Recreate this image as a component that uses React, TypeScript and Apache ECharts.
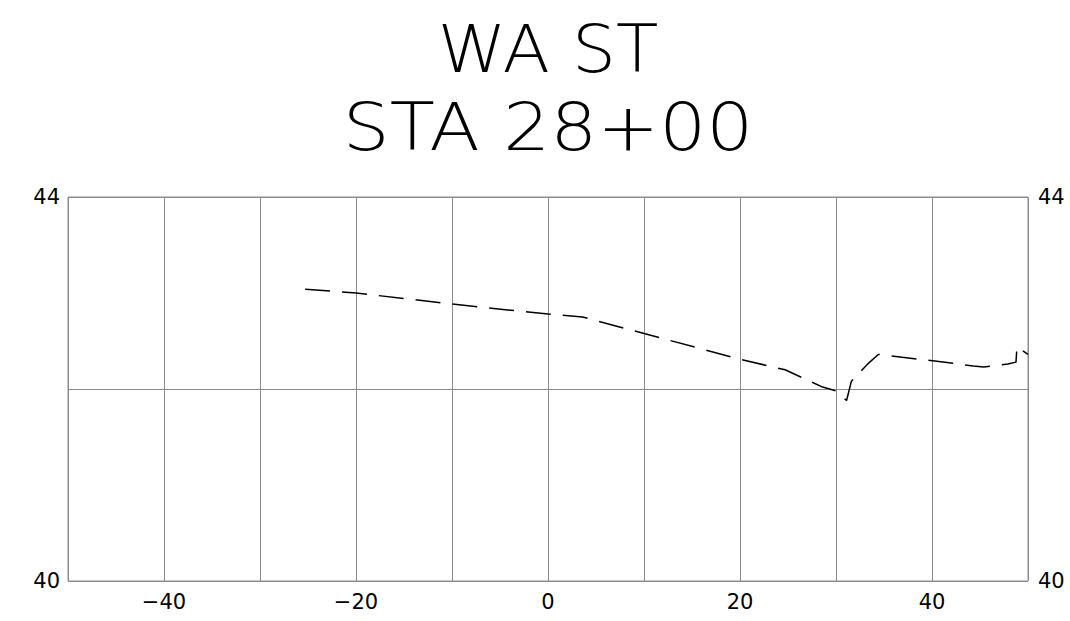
import React, { useEffect, useRef } from "react";
import * as echarts from "echarts";

const titleLines = ["WA ST", "STA 28+00"];
const offsets = [-25.3, -20, -10, 0, 3.6, 20, 24.7, 28.6, 30, 31.1, 31.6, 33.4, 34.4, 36.9, 40.5, 44.3, 45.4, 47.9, 48.75, 48.85, 50];
const elevations = [43.04, 43.0, 42.885, 42.78, 42.75, 42.31, 42.2, 42.02, 41.98, 41.88, 42.08, 42.27, 42.36, 42.33, 42.29, 42.24, 42.23, 42.26, 42.28, 42.44, 42.36];
const xLabelTicks = [-40, -20, 0, 20, 40];
const yLabelTicks = [40, 44];

export default function App() {
  const ref = useRef<HTMLDivElement>(null);
  useEffect(() => {
    const chart = echarts.init(ref.current!, null, { renderer: "svg" });
    const font = "DejaVu Sans";
    const gridColor = "#8c8c8c";
    const titleScale = [1.05, 1.12];
    const yAxisCommon = {
      type: "value",
      min: 40,
      max: 44,
      interval: 2,
      axisLine: { show: false },
      axisTick: { show: false },
      splitLine: { show: true, lineStyle: { color: gridColor, width: 1 } },
      axisLabel: {
        fontFamily: font,
        fontSize: 21,
        color: "#000",
        formatter: (v: number) => (yLabelTicks.includes(v) ? String(v) : ""),
      },
    };
    chart.setOption({
      animation: false,
      backgroundColor: "#fff",
      grid: {
        left: 68,
        right: 42,
        top: 197,
        bottom: 40,
        show: true,
        borderColor: gridColor,
        borderWidth: 1,
      },
      xAxis: {
        type: "value",
        min: -50,
        max: 50,
        interval: 10,
        axisLine: { show: false },
        axisTick: { show: false },
        splitLine: { show: true, lineStyle: { color: gridColor, width: 1 } },
        axisLabel: {
          fontFamily: font,
          fontSize: 21,
          color: "#000",
          margin: 10,
          formatter: (v: number) =>
            xLabelTicks.includes(v) ? (v < 0 ? "\u2212" + Math.abs(v) : String(v)) : "",
        },
      },
      yAxis: [
        { ...yAxisCommon, position: "left", axisLabel: { ...yAxisCommon.axisLabel, margin: 8 } },
        { ...yAxisCommon, position: "right", splitLine: { show: false }, axisLabel: { ...yAxisCommon.axisLabel, margin: 10 } },
      ],
      graphic: titleLines.map((t, i) => ({
        type: "text",
        x: 548,
        y: 49 + i * 78,
        scaleX: titleScale[i],
        style: {
          text: t,
          fontFamily: font,
          fontWeight: 200,
          fontSize: 66,
          fill: "#000",
          textAlign: "center",
          textVerticalAlign: "middle",
        },
      })),
      series: [
        {
          type: "line",
          data: offsets.map((x, i) => [x, elevations[i]]),
          showSymbol: false,
          symbol: "none",
          lineStyle: { color: "#000", width: 1.5, type: [25, 12] },
        },
      ],
    });
    return () => chart.dispose();
  }, []);
  return (
    <div
      ref={ref}
      style={{ position: "absolute", left: 0, top: 0, width: 1070, height: 621 }}
    />
  );
}
